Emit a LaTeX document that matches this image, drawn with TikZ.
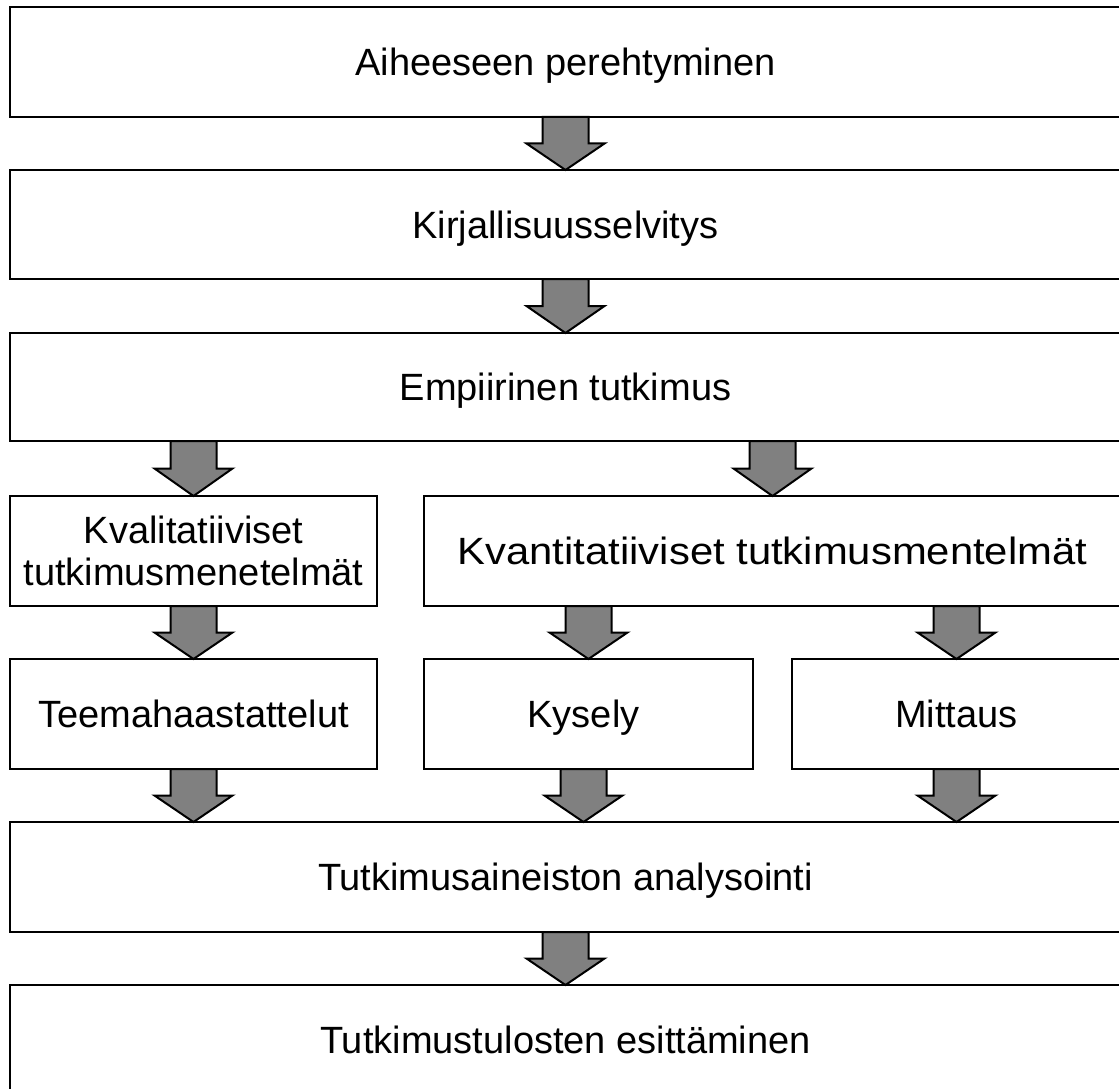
\documentclass[tikz,border=0pt]{standalone}
\usepackage{fontspec}
\usepackage{graphicx}
\setmainfont{Liberation Sans}
\usetikzlibrary{calc}
\tikzset{
  box/.style={draw=black, line width=2pt, fill=white, rectangle, anchor=north west,
    align=center, inner sep=0pt, outer sep=0pt,
    font=\fontsize{38}{42}\selectfont},
  oneline/.style={text height=27.5pt, text depth=0pt},
  barr/.style={draw=black, line width=2pt, fill=black!50, line join=miter},
}
\newcommand\barrow[2]{%
  \draw[barr] let \p1=(#1), \p2=(#2), \n1={(\y1-\y2)/2} in
    (\x1-23pt,\y1) -- (\x1+23pt,\y1) -- (\x1+23pt,\y1-\n1*1pt) -- (\x1+39pt,\y1-\n1*1pt)
    -- (\x1,\y2) -- (\x1-39pt,\y1-\n1*1pt) -- (\x1-23pt,\y1-\n1*1pt) -- cycle;}
\begin{document}
\begin{tikzpicture}[x=1pt,y=-1pt]
\useasboundingbox (0,0) rectangle (1119,1089);
\clip (0,0) rectangle (1119,1089);
\fill[white] (0,0) rectangle (1119,1089);
% row 1-3
\node[box, oneline, minimum width=1111pt, minimum height=110pt] (n1) at (10,7) {Aiheeseen perehtyminen};
\node[box, oneline, minimum width=1111pt, minimum height=109pt] (n2) at (10,170) {Kirjallisuusselvitys};
\node[box, oneline, minimum width=1111pt, minimum height=108pt] (n3) at (10,333) {Empiirinen tutkimus};
% row 4
\node[box, minimum width=367pt, minimum height=110pt] (n4a) at (10,496) {Kvalitatiiviset\\tutkimusmenetelmät};
\node[box, oneline, minimum width=697pt, minimum height=110pt] (n4b) at (424,496) {\scalebox{1.1}[1]{Kvantitatiiviset tutkimusmentelmät}};
% row 5
\node[box, oneline, minimum width=367pt, minimum height=110pt] (n5a) at (10,659) {Teemahaastattelut};
\node[box, oneline, minimum width=329pt, minimum height=110pt] (n5b) at (424,659) {\hspace*{-10pt}Kysely};
\node[box, oneline, minimum width=329pt, minimum height=110pt] (n5c) at (792,659) {Mittaus};
% row 6-7
\node[box, oneline, minimum width=1111pt, minimum height=110pt] (n6) at (10,822) {Tutkimusaineiston analysointi};
\node[box, oneline, minimum width=1111pt, minimum height=110pt] (n7) at (10,985) {Tutkimustulosten esittäminen};
% arrows
\barrow{n1.south}{n2.north}
\barrow{n2.south}{n3.north}
\barrow{n4a.north |- n3.south}{n4a.north}
\barrow{n4b.north |- n3.south}{n4b.north}
\barrow{n4a.south}{n5a.north}
\barrow{n5b.north |- n4b.south}{n5b.north}
\barrow{n5c.north |- n4b.south}{n5c.north}
\barrow{n5a.south}{n5a.south |- n6.north}
\barrow{$(n5b.south)+(-5,0)$}{$(n5b.south |- n6.north)+(-5,0)$}
\barrow{n5c.south}{n5c.south |- n6.north}
\barrow{n6.south}{n7.north}
\end{tikzpicture}
\end{document}
